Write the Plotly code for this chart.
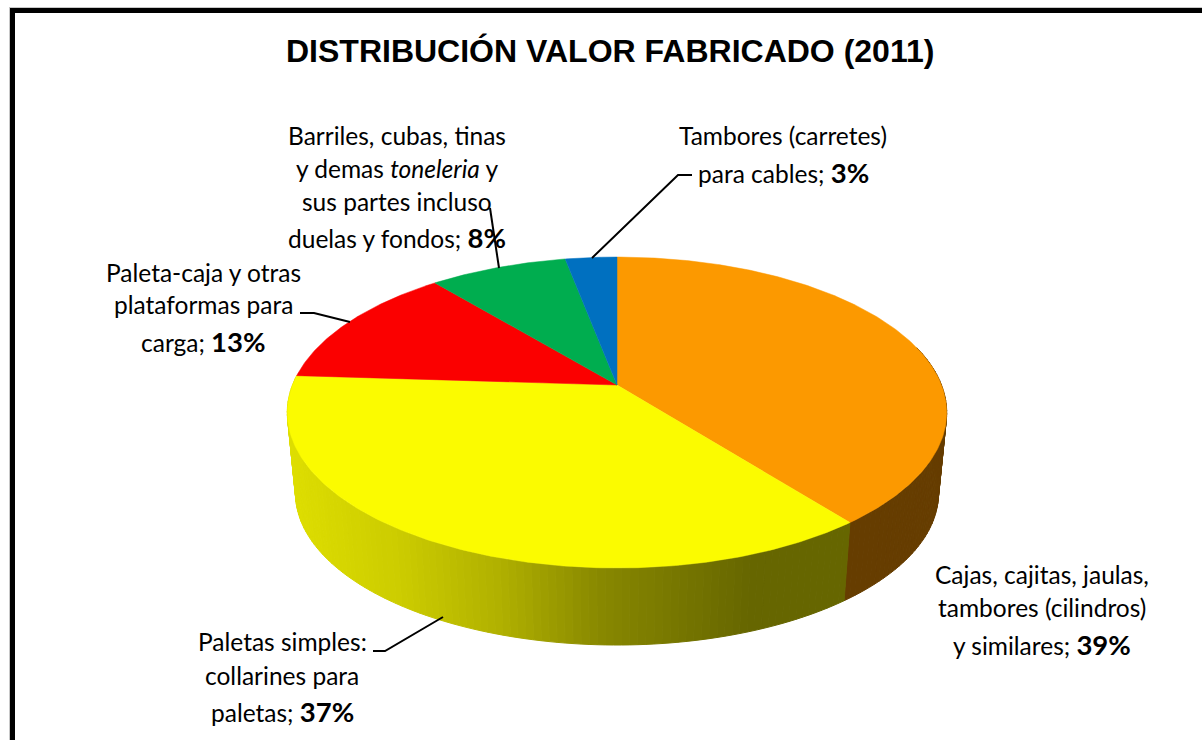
import numpy as np
import plotly.graph_objects as go

TITLE = "DISTRIBUCIÓN VALOR FABRICADO (2011)"
CATEGORIES = [
    "Cajas, cajitas, jaulas, tambores (cilindros) y similares",
    "Paletas simples: collarines para paletas",
    "Paleta-caja y otras plataformas para carga",
    "Barriles, cubas, tinas y demas toneleria y sus partes incluso duelas y fondos",
    "Tambores (carretes) para cables",
]
VALUES = [39.4, 36.6, 13.0, 8.0, 3.0]
LABEL_LINES = [
    ["Cajas, cajitas, jaulas,", "tambores (cilindros)", "y similares;"],
    ["Paletas simples:", "collarines para", "paletas;"],
    ["Paleta-caja y otras", "plataformas para", "carga;"],
    ["Barriles, cubas, tinas", "y demas <i>toneleria</i> y", "sus partes incluso", "duelas y fondos;"],
    ["Tambores (carretes)", "para cables;"],
]

# styling and layout
TOP_COLORS = ["#FC9900", "#FBFB00", "#FB0000", "#00AD4F", "#0070C0"]
SIDE_ORANGE = "#663D00"
SIDE_STOPS_X = [290, 400, 500, 600, 750, 860]
SIDE_STOPS_G = [222, 204, 176, 136, 102, 102]
LABEL_CX = [1042, 282, 203, 397, 783]
LABEL_CY = [[575, 608, 645], [642, 676, 712], [273, 305, 342], [136, 169, 202, 238], [136, 173]]
LEADERS = [
    [(373, 651), (385, 651), (443, 617)],
    [(300, 313), (314, 313), (350, 322)],
    [(490, 208), (499, 268)],
    [(692, 175), (678, 175), (592, 258)],
]

# perspective projection of the pie disc
CX, APEX_Y, R, H, K = 617.0, 385.0, 324.5, 150.6, 0.177
BOTTOM_APEX_Y, BOTTOM_F = 466.6, 0.975


def rim(theta, apex_y=APEX_Y, f=1.0):
    X, Y = np.sin(theta), np.cos(theta)
    s = f / (1 + K * Y)
    return CX + R * X * s, apex_y - H * Y * s


edges = np.cumsum([0] + VALUES) / sum(VALUES) * 2 * np.pi
fig = go.Figure()


def band(xs, ys, color):
    fig.add_trace(go.Scatter(x=xs, y=ys, mode="lines", fill="toself", fillcolor=color,
                             line=dict(color=color, width=1), hoverinfo="skip", showlegend=False))


# visible side wall (slices 0 and 1 only face the viewer)
for i, color in [(0, SIDE_ORANGE), (1, None)]:
    a0, a1 = edges[i], edges[i + 1]
    a0 = max(a0, np.radians(75))
    a1 = min(a1, np.radians(285))
    n = max(2, int((a1 - a0) / np.radians(1.2)))
    t = np.linspace(a0, a1, n + 1)
    for j in range(n):
        tt = np.array([t[j], t[j + 1]])
        x1, y1 = rim(tt)
        x2, y2 = rim(tt[::-1], BOTTOM_APEX_Y, BOTTOM_F)
        c = color
        if c is None:
            g = np.interp((x1.mean() + x2.mean()) / 2, SIDE_STOPS_X, SIDE_STOPS_G)
            c = f"rgb({g:.0f},{g:.0f},0)"
        band(np.r_[x1, x2, x1[0]], np.r_[y1, y2, y1[0]], c)

# top surface
for i, v in enumerate(VALUES):
    t = np.linspace(edges[i], edges[i + 1], max(8, int(v * 6)))
    x, y = rim(t)
    fig.add_trace(go.Scatter(
        x=np.r_[CX, x, CX], y=np.r_[APEX_Y, y, APEX_Y], mode="lines", fill="toself",
        fillcolor=TOP_COLORS[i], line=dict(color=TOP_COLORS[i], width=0.5),
        name=CATEGORIES[i], text=f"{CATEGORIES[i]}: {round(v)}%", hoverinfo="text", showlegend=False))

# leader lines
for pts in LEADERS:
    fig.add_trace(go.Scatter(x=[p[0] for p in pts], y=[p[1] for p in pts], mode="lines",
                             line=dict(color="black", width=2), hoverinfo="skip", showlegend=False))

FONT = "Lato"
annotations = [dict(x=610, y=51, xref="x", yref="y", text=f"<b>{TITLE}</b>", showarrow=False,
                    xanchor="center", yanchor="middle",
                    font=dict(family="Liberation Sans", size=32, color="black"))]
for i, lines in enumerate(LABEL_LINES):
    for j, line in enumerate(lines):
        last = j == len(lines) - 1
        txt = line + (f' <b><span style="font-size:27.5px">{round(VALUES[i])}%</span></b>' if last else "")
        annotations.append(dict(x=LABEL_CX[i], y=LABEL_CY[i][j] - 1, xref="x", yref="y", text=txt,
                                showarrow=False, xanchor="center", yanchor="middle",
                                font=dict(family=FONT, size=24.5, color="black")))

shapes = [
    dict(type="rect", xref="x", yref="y", x0=9, x1=1202, y0=7, y1=8, fillcolor="#C8C8C8", line_width=0, layer="below"),
    dict(type="rect", xref="x", yref="y", x0=9, x1=10, y0=7, y1=740, fillcolor="#C8C8C8", line_width=0, layer="below"),
    dict(type="rect", xref="x", yref="y", x0=10, x1=1202, y0=8, y1=13, fillcolor="black", line_width=0, layer="below"),
    dict(type="rect", xref="x", yref="y", x0=10, x1=15, y0=8, y1=740, fillcolor="black", line_width=0, layer="below"),
]

fig.update_layout(
    width=1202, height=740, margin=dict(l=0, r=0, t=0, b=0),
    paper_bgcolor="white", plot_bgcolor="white", showlegend=False,
    xaxis=dict(range=[0, 1202], visible=False, fixedrange=True),
    yaxis=dict(range=[740, 0], visible=False, fixedrange=True),
    annotations=annotations, shapes=shapes,
)
fig.write_html("out.html", config={"displayModeBar": False},
               post_script="document.body.style.margin='0';document.body.style.overflow='hidden';")
